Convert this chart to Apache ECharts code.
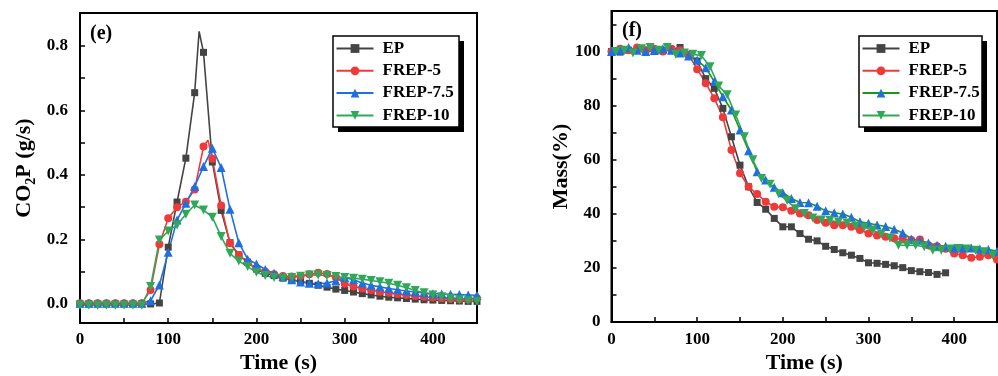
<!DOCTYPE html>
<html>
<head>
<meta charset="utf-8">
<script src="https://cdn.jsdelivr.net/npm/echarts@6/dist/echarts.min.js"></script>
<style>
  html, body { margin: 0; padding: 0; background: #fff; }
  #left { position: absolute; left: 0; top: 0; width: 500px; height: 376px; }
  #right { position: absolute; left: 500px; top: 0; width: 498px; height: 376px; }
</style>
</head>
<body>
<div id="left"></div>
<div id="right"></div>
<script>
// ---------------- data ----------------
const seriesNames = ['EP', 'FREP-5', 'FREP-7.5', 'FREP-10'];
const timeS = [0,10,20,30,40,50,60,70,80,90,100,110,120,130,140,150,160,170,180,190,200,
  210,220,230,240,250,260,270,280,290,300,310,320,330,340,350,360,370,380,390,400,410,420,430,440,450];
// FREP-10 mass samples sit half-way between the others
const timeShifted = [5,15,25,35,45,55,65,75,85,95,105,115,125,135,145,155,165,175,185,195,205,
  215,225,235,245,255,265,275,285,295,305,315,325,335,345,355,365,375,385,395,405,415,425,435,445,455];

// (e) CO2 production rate, g/s
const co2EP = [0,0,0,0,0,0,0,0,0,0.003,0.176,0.316,0.452,0.655,0.78,0.44,0.29,0.19,0.152,0.13,0.108,
  0.095,0.088,0.08,0.075,0.07,0.064,0.058,0.052,0.046,0.042,0.037,0.032,0.028,0.024,0.021,0.019,0.017,0.015,0.013,0.012,0.011,0.01,0.009,0.008,0.008];
const co2FREP5 = [0.002,0.002,0.002,0.002,0.002,0.002,0.002,0.002,0.043,0.185,0.266,0.30,0.317,0.355,0.488,0.45,0.305,0.188,0.152,0.128,0.11,
  0.1,0.092,0.087,0.085,0.087,0.092,0.097,0.093,0.083,0.063,0.054,0.048,0.043,0.038,0.035,0.031,0.028,0.025,0.022,0.02,0.018,0.016,0.015,0.015,0.018];
const co2FREP75 = [0.002,0.002,0.002,0.002,0.002,0.002,0.002,0.002,0.01,0.059,0.16,0.26,0.312,0.364,0.426,0.483,0.423,0.294,0.19,0.139,0.124,
  0.107,0.095,0.085,0.075,0.068,0.064,0.063,0.065,0.072,0.082,0.075,0.065,0.058,0.053,0.048,0.044,0.04,0.037,0.034,0.032,0.031,0.03,0.029,0.028,0.027];
const co2FREP10 = [-0.004,-0.004,-0.004,-0.004,-0.004,-0.004,-0.004,-0.004,0.054,0.198,0.226,0.245,0.278,0.307,0.291,0.269,0.209,0.157,0.133,0.116,0.098,
  0.088,0.082,0.08,0.082,0.086,0.09,0.09,0.088,0.085,0.082,0.08,0.077,0.073,0.069,0.064,0.058,0.05,0.042,0.035,0.028,0.022,0.017,0.013,0.01,0.008];
// unmarked peak samples between markers
const co2PeakEP = [135, 0.845];
const co2PeakFREP5 = [145, 0.508];

// (f) residual mass, %
const massEP = [100,99.8,100.5,101,100.5,100,100.3,100.8,101.5,99,96.5,90,86.4,79,68.5,58,50,44.2,41.7,38.3,35.2,
  35.2,32.7,30.6,30,28,26.8,25.6,24.7,23.5,21.9,21.7,21.3,20.8,20.1,19,18.6,18.3,17.6,18.2];
const massFREP5 = [100,101,100.5,101.5,100.5,101,100,101,100.5,98.8,93.5,88.3,82.7,75.7,63.6,55,50,47.3,44.5,42.6,42.4,
  41.1,40.1,39.5,37.7,36.7,35.8,35.8,35.2,34,32.7,32,31.5,31,30.5,30.3,30.5,28.4,28,27.1,25.3,24.7,23.8,24.1,24.7,23.1];
const massFREP75 = [100,100.5,101.5,100.5,100,100.5,101,100.5,99.5,98.4,96.9,94,88.9,83.3,78.4,71,63.3,55.6,52.5,49.8,47.8,
  45.7,44.2,44.1,42.8,41.1,40.4,39.9,38.7,37.1,36.5,35.9,35.3,34.3,32.9,30.7,30.2,29.2,28.4,28,27.4,27.4,27.4,27,26.8,26.2];
const massFREP10 = [100,100.5,99.5,101,101.5,100.5,101.5,99,99.5,99,98.5,94.4,87.3,84,76.5,68.5,60,53.1,50.9,47.4,44.9,
  41.9,40.1,38.5,37.7,37.5,37,36.5,35.5,35,34,32.5,31,28.4,28.4,28.4,27.8,26.5,26.5,27,27.2,27,26.5,26,24.7,24];

const xTicks = [0,50,100,150,200,250,300,350,400,450];
const xLabels = [0,100,200,300,400];
const co2Ticks = [0,0.1,0.2,0.3,0.4,0.5,0.6,0.7,0.8];
const co2Labels = [0,0.2,0.4,0.6,0.8];
const massTicks = [0,10,20,30,40,50,60,70,80,90,100,110];
const massLabels = [0,20,40,60,80,100];

// ---------------- styling ----------------
const FONT = '"Liberation Serif", "Times New Roman", "DejaVu Serif", serif';
const C_EP = '#444444', C_R = '#f03a3a', C_B = '#1f6fe0', C_G = '#30a85a', C_G2 = '#159a15';

function pairs(times, vals, extra) {
  const d = vals.map((v, i) => [times[i], v]);
  if (extra) { d.push({ value: extra, symbol: 'none' }); d.sort((a, b) => (a.value || a)[0] - (b.value || b)[0]); }
  return d;
}

function mkSeries(name, data, lineColor, markColor, symbol, rot, size) {
  return {
    name, type: 'line', data, symbol, symbolSize: size, symbolRotate: rot || 0,
    lineStyle: { color: lineColor, width: 1.6 },
    itemStyle: { color: markColor },
    emphasis: { disabled: true }, z: 2
  };
}

function xAxis(labelMargin, nameGap) {
  return {
    type: 'value', min: 0, max: 450,
    name: 'Time (s)', nameLocation: 'middle', nameGap, nameMoveOverlap: false,
    nameTextStyle: { fontFamily: FONT, fontWeight: 'bold', fontSize: 22, color: '#000' },
    axisLine: { show: true, onZero: false, lineStyle: { color: '#000', width: 2 } },
    axisTick: { show: true, inside: true, length: 5, customValues: xTicks, lineStyle: { color: '#000', width: 1.5 } },
    axisLabel: { customValues: xLabels, margin: labelMargin, fontFamily: FONT, fontWeight: 'bold', fontSize: 17, color: '#000' },
    splitLine: { show: false }
  };
}

function legend(left, data) {
  return {
    data, orient: 'vertical', left, top: 36,
    itemWidth: 37, itemHeight: 11, itemGap: 2.3,
    padding: [2.5, 0, 0, 2.5],
    backgroundColor: 'transparent', borderWidth: 0,
    selectedMode: false, z: 10,
    textStyle: { fontFamily: FONT, fontWeight: 'bold', fontSize: 17, lineHeight: 20, color: '#000', padding: [0, 0, 0, 4] }
  };
}

function legendBox(x, y, w, h) {
  return [
    { type: 'rect', z: 1, shape: { x: x + 5, y: y + 5, width: w, height: h }, style: { fill: '#000' } },
    { type: 'rect', z: 2, shape: { x, y, width: w, height: h }, style: { fill: '#fff', stroke: '#000', lineWidth: 1.5 } }
  ];
}

// ---------------- left chart (e) ----------------
const left = echarts.init(document.getElementById('left'), null, { renderer: 'canvas' });
left.setOption({
  animation: false,
  backgroundColor: '#fff',
  grid: { left: 80, right: 23, top: 13, bottom: 53, containLabel: false, outerBoundsMode: 'none',
    show: true, borderColor: '#000', borderWidth: 2, backgroundColor: 'transparent' },
  xAxis: xAxis(8, 29),
  yAxis: {
    type: 'value', min: -0.059, max: 0.902,
    name: '{a|CO}{b|2}{a|P (g/s)}', nameLocation: 'middle', nameGap: 42, nameRotate: 90, nameMoveOverlap: false,
    nameTextStyle: {
      rich: {
        a: { fontFamily: FONT, fontWeight: 'bold', fontSize: 22, color: '#000', lineHeight: 28, verticalAlign: 'middle' },
        b: { fontFamily: FONT, fontWeight: 'bold', fontSize: 14, color: '#000', lineHeight: 14, verticalAlign: 'bottom' }
      }
    },
    axisLine: { show: true, onZero: false, lineStyle: { color: '#000', width: 2 } },
    axisTick: { show: true, inside: true, length: 5, customValues: co2Ticks, lineStyle: { color: '#000', width: 1.5 } },
    axisLabel: { customValues: co2Labels, margin: 12, fontFamily: FONT, fontWeight: 'bold', fontSize: 17, color: '#000',
      formatter: v => v.toFixed(1) },
    splitLine: { show: false }
  },
  legend: legend(333, seriesNames),
  graphic: [
    ...legendBox(333, 36, 126, 91),
    { type: 'text', left: 90, top: 24, style: { text: '(e)', font: 'bold 20px ' + FONT, fill: '#000' } }
  ],
  series: [
    mkSeries('EP', pairs(timeS, co2EP, co2PeakEP), C_EP, C_EP, 'rect', 0, 7),
    mkSeries('FREP-5', pairs(timeS, co2FREP5, co2PeakFREP5), C_R, C_R, 'circle', 0, 8),
    mkSeries('FREP-7.5', pairs(timeS, co2FREP75), C_B, C_B, 'triangle', 0, 9),
    mkSeries('FREP-10', pairs(timeS, co2FREP10), C_G, C_G, 'triangle', 180, 9)
  ]
});

// ---------------- right chart (f) ----------------
const right = echarts.init(document.getElementById('right'), null, { renderer: 'canvas' });
right.setOption({
  animation: false,
  backgroundColor: '#fff',
  grid: { left: 111.5, right: 1, top: 11, bottom: 54, containLabel: false, outerBoundsMode: 'none',
    show: true, borderColor: '#000', borderWidth: 2, backgroundColor: 'transparent' },
  xAxis: xAxis(9, 30),
  yAxis: {
    type: 'value', min: 0, max: 115,
    name: 'Mass(%)', nameLocation: 'middle', nameGap: 39, nameRotate: 90, nameMoveOverlap: false,
    nameTextStyle: { fontFamily: FONT, fontWeight: 'bold', fontSize: 22, color: '#000' },
    axisLine: { show: true, onZero: false, lineStyle: { color: '#000', width: 2 } },
    axisTick: { show: true, inside: true, length: 5, customValues: massTicks, lineStyle: { color: '#000', width: 1.5 } },
    axisLabel: { customValues: massLabels, margin: 11, fontFamily: FONT, fontWeight: 'bold', fontSize: 17, color: '#000' },
    splitLine: { show: false }
  },
  legend: legend(359, [
    { name: 'EP' }, { name: 'FREP-5' },
    { name: 'FREP-7.5', lineStyle: { color: C_G2 } },
    { name: 'FREP-10' }
  ]),
  graphic: [
    ...legendBox(359, 36, 123, 91),
    { type: 'text', left: 122, top: 21, style: { text: '(f)', font: 'bold 20px ' + FONT, fill: '#000' } }
  ],
  series: [
    mkSeries('EP', pairs(timeS, massEP), C_EP, C_EP, 'rect', 0, 7),
    mkSeries('FREP-5', pairs(timeS, massFREP5), C_R, C_R, 'circle', 0, 8),
    mkSeries('FREP-7.5', pairs(timeS, massFREP75), C_G2, C_B, 'triangle', 0, 9),
    mkSeries('FREP-10', pairs(timeShifted, massFREP10), C_G, C_G, 'triangle', 180, 9)
  ]
});
</script>
</body>
</html>
